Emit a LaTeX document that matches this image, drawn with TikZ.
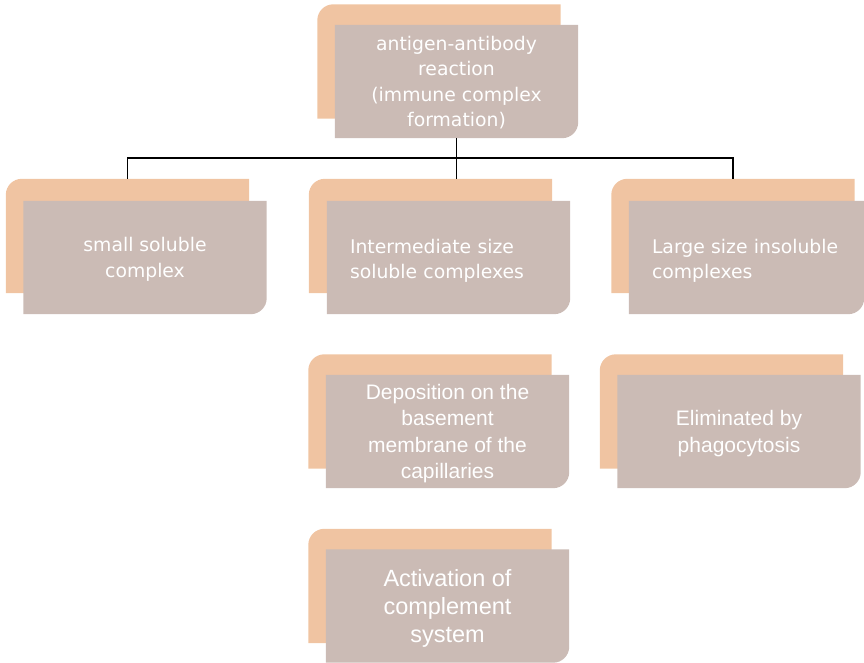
\documentclass[tikz,border=0pt]{standalone}
\usepackage{fontspec}
\setmainfont{DejaVu Sans}
\newfontfamily\arialfont{Liberation Sans}
\usepackage{tikz}
\usetikzlibrary{positioning,calc,backgrounds}
\definecolor{backpeach}{RGB}{240,196,162}
\definecolor{fronttaupe}{RGB}{203,187,181}

\begin{document}
\begin{tikzpicture}[
    x=1pt,y=1pt,
    every node/.style={text=white,inner sep=0pt},
    back/.style={minimum width=243pt,minimum height=114pt},
    front/.style={minimum width=243pt,minimum height=113pt,text depth=-7pt,align=center,font={\fontsize{18.8}{25.5}\selectfont}},
    leftfront/.style={front,text width=197pt,text depth=23pt,align=left},
    arial/.style={font={\arialfont\fontsize{21}{26.5}\selectfont}},
    conn/.style={line width=1.9pt}
]
\useasboundingbox (0,0) rectangle (864,662);

\node[back] (top-b) at (439,600.5) {};
\node[front] (top) at ($(top-b)+(17.5,-20)$) {antigen-antibody\\reaction\\(immune complex\\formation)};

\node[back] (small-b) at (127.5,426) {};
\node[front] (small) at ($(small-b)+(17.5,-21.5)$) {small soluble\\complex};
\node[back] (inter-b) at (430.5,426) {};
\node[leftfront] (inter) at ($(inter-b)+(18,-21.5)$) {Intermediate size\\soluble complexes};
\node[back] (large-b) at (733,426) {};
\node[leftfront,minimum width=235pt,text width=189pt] (large) at ($(large-b)+(13.5,-21.5)$) {Large size insoluble\\complexes};

\node[back] (depo-b) at (430,250.5) {};
\node[front,arial] (depo) at ($(depo-b)+(17.5,-20)$) {Deposition on the\\basement\\membrane of the\\capillaries};
\node[back] (elim-b) at (721.5,250.5) {};
\node[front,arial] (elim) at ($(elim-b)+(17.5,-20)$) {Eliminated by\\phagocytosis};

\node[back] (activ-b) at (430,76) {};
\node[front,font={\arialfont\fontsize{23.5}{28}\selectfont}] (activ) at ($(activ-b)+(17.5,-20)$) {Activation of\\complement\\system};

% card shapes behind the text
\begin{scope}[on background layer]
\foreach \c in {top,small,inter,large,depo,elim,activ}{
  \fill[backpeach] (\c-b.south west) -- ([yshift=-16pt]\c-b.north west)
    arc[start angle=180,end angle=90,radius=16pt] -- (\c-b.north east) -- (\c-b.south east) -- cycle;
  \fill[fronttaupe] (\c.south west) -- (\c.north west) -- (\c.north east) -- ([yshift=16pt]\c.south east)
    arc[start angle=0,end angle=-90,radius=16pt] -- cycle;
}
\end{scope}

\coordinate (split) at ($(top.south)+(0,-20)$);
\draw[conn] (small-b.north) |- (split) -| (large-b.north);
\draw[conn] (top.south) -- (top.south |- inter-b.north);
\end{tikzpicture}
\end{document}
